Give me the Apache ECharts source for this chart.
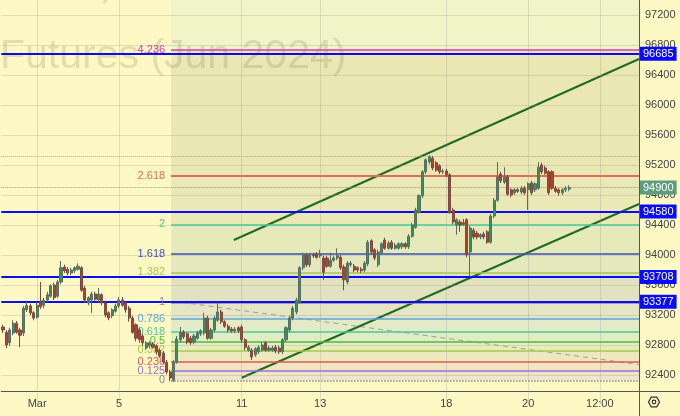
<!DOCTYPE html>
<html><head><meta charset="utf-8">
<script src="https://cdn.jsdelivr.net/npm/echarts@6/dist/echarts.min.js"></script>
<style>html,body{margin:0;padding:0;background:#fdf8c4}#c{width:680px;height:416px}</style>
</head><body><div id="c"></div>
<script>
// candles: [open, close, low, high]
const candles = [
[93040,93000,92960,93070],[92970,92800,92760,93000],[92830,93000,92790,93030],[92960,93090,92930,93130],
[93090,92970,92950,93120],[93000,92930,92770,93030],[92960,93290,92920,93320],[93270,93330,93240,93370],
[93320,93230,93200,93350],[93230,93160,93130,93250],[93170,93330,93150,93370],[93370,93310,93280,93640],
[93330,93400,93290,93430],[93400,93470,93370,93510],[93450,93590,93430,93610],[93600,93430,93400,93630],
[93450,93640,93430,93670],[93640,93830,93610,93920],[93840,93790,93760,93870],[93810,93760,93730,93840],
[93760,93800,93730,93830],[93790,93830,93760,93850],[93810,93850,93790,93890],[93830,93530,93510,93850],
[93560,93400,93360,93590],[93360,93430,93330,93450],[93400,93480,93230,93510],[93480,93410,93390,93510],
[93400,93480,93370,93560],[93470,93360,93330,93490],[93360,93200,93170,93390],[93230,93160,93130,93250],
[93190,93270,93160,93290],[93250,93320,93230,93350],[93320,93400,93290,93440],[93400,93330,93310,93440],
[93360,93270,93230,93390],[93290,93160,93110,93320],[93160,92970,92950,93190],[93070,92890,92850,93090],
[93000,92870,92830,93030],[92920,92830,92790,92950],[92760,92830,92730,92850],[92790,92830,92760,92850],
[92810,92770,92750,92840],[92790,92710,92670,92810],[92730,92650,92630,92760],[92690,92570,92550,92720],
[92570,92440,92410,92600],[92440,92360,92320,92470],[92330,92570,92310,92600],[92570,92880,92550,92920],
[92870,92970,92840,93040],[92970,92910,92880,93000],[92950,92840,92810,92970],[92890,92830,92800,92920],
[92840,92920,92810,92950],[92890,92960,92870,92990],[92950,92990,92920,93010],[92960,93160,92930,93230],
[93160,92890,92870,93190],[92890,93000,92870,93030],[93000,93160,92970,93190],[93130,93240,93110,93370],
[93240,93110,93080,93270],[93110,93050,93030,93130],[93050,93000,92970,93080],[93010,92990,92960,93040],
[92990,93010,92960,93040],[93030,92990,92960,93050],[93040,92870,92830,93070],[92870,92770,92730,92890],
[92730,92770,92710,92800],[92730,92640,92600,92760],[92670,92750,92640,92770],[92710,92770,92680,92800],
[92730,92800,92710,92840],[92830,92730,92710,92850],[92730,92760,92710,92790],[92730,92760,92710,92790],
[92770,92720,92690,92800],[92760,92710,92680,92790],[92710,92870,92680,92890],[92870,93030,92840,93050],
[93000,93160,92970,93190],[93160,93290,93130,93320],[93240,93400,93210,93430],[93370,93830,93350,93850],
[93830,94000,93800,94030],[94000,93870,93840,94030],[93870,94000,93840,94030],[94000,93990,93960,94030],
[94010,93970,93950,94040],[93990,94010,93960,94070],[93960,93770,93670,93990],[93960,93850,93830,93990],
[93850,93930,93830,94030],[93930,93960,93910,93990],[93960,93990,93930,94090],[93970,93830,93800,94000],
[93840,93670,93530,93870],[93640,93890,93610,93920],[93870,93890,93840,93920],[93850,93800,93770,93880],
[93830,93800,93770,93850],[93810,93790,93760,93840],[93800,93890,93770,93920],[93880,94170,93850,94200],
[94190,94040,94010,94210],[94070,93960,93930,94090],[93870,94040,93840,94070],[94030,94150,94000,94170],
[94200,94090,94070,94230],[94090,94160,94070,94190],[94170,94090,94070,94200],[94090,94130,94070,94160],
[94090,94150,94070,94170],[94110,94150,94080,94170],[94150,94110,94080,94170],[94110,94250,94080,94280],
[94250,94400,94230,94430],[94370,94600,94350,94630],[94570,94790,94550,94810],[94790,95110,94760,95130],
[95110,95270,95080,95290],[95240,95310,95210,95330],[95290,95160,95130,95320],[95230,95130,95110,95250],
[95190,95110,95080,95210],[95110,95120,95080,95150],[95120,95070,95040,95150],[95070,94570,94550,95090],
[94600,94440,94410,94630],[94400,94470,94270,94490],[94440,94400,94310,94470],[94430,94410,94390,94480],
[94470,94000,93970,94490],[94040,94360,93710,94390],[94330,94240,94210,94360],[94290,94240,94210,94320],
[94240,94270,94210,94290],[94280,94240,94210,94310],[94310,94170,94150,94330],[94170,94520,94150,94550],
[94520,94730,94490,94760],[94730,95040,94710,95240],[95080,94990,94960,95110],[94970,95050,94950,95170],
[95040,94810,94790,95070],[94870,94800,94770,94890],[94830,94870,94800,94890],[94870,94850,94830,94890],
[94840,94890,94810,94920],[94890,94830,94800,94920],[94870,94950,94600,94970],[94960,94830,94800,94990],
[94870,94950,94840,94970],[94890,95170,94870,95240],[95200,95110,95080,95230],[95160,95090,95070,95190],
[95110,94830,94800,95130],[95110,94890,94870,95130],[94890,94850,94830,94920],[94870,94830,94790,94890],
[94830,94870,94800,94890],[94870,94890,94840,94920],[94880,94900,94850,94930]
];
const categoryCount = 187;
const tickLabels = ['Mar','5','11','13','18','20','12:00'];
const tickIndex = [10,34,70,93,130,154,175];
const priceTicks = [92400,92800,93200,93600,94000,94400,94800,95200,95600,96000,96400,96800,97200];
const fibLow = 92330, fibHigh = 93370;
const fibStart = 49.3;
const fibLevels = [0,0.125,0.236,0.382,0.5,0.618,0.786,1,1.382,1.618,2,2.618,4.236];
const fibLabels = ['0','0.125','0.236','0.382','0.5','0.618','0.786','1','1.382','1.618','2','2.618','4.236'];
const levelLines = [96685,94580,93708,93377];
const lastPrice = 94900;
const dottedLevels = [95320];
const upperChannel = [[67.7,94200],[186.5,96613]];
const lowerChannel = [[70.0,92363],[186.5,94680]];
const dashedLine = [[49.8,93385],[186.5,92540]];

// styles
const fibColors = ['#8a8a8a','#9575cd','#dc5a4e','#a6c84c','#4cbb3a','#48c89a','#5aa8d8','#8a8a8a','#a5c951','#3a4fc0','#49c99a','#d9705c','#d13fb4'];
const zoneColors = ['#f0e4cc','#f2e5c3','#ede9be','#e6ecbe','#e0ecc4','#e3eac8','#e5e4c5','#e2e2c0','#e4e8bc','#e6eabb','#eae8b5','#ebe7b3'];
const topZoneColor = '#eff5c7';
const yMin = 92000, yMax = 97400;

const categories = [];
for (let i = 0; i < categoryCount; i++) {
  const k = tickIndex.indexOf(i);
  categories.push(k >= 0 ? tickLabels[k] : '');
}
const xEnd = categoryCount - 0.5;
const fibPrice = l => fibLow + (fibHigh - fibLow) * l;

const zones = [];
for (let i = 0; i < fibLevels.length - 1; i++) {
  zones.push([{xAxis: fibStart, yAxis: fibPrice(fibLevels[i]), itemStyle: {color: zoneColors[i]}},
              {xAxis: xEnd, yAxis: fibPrice(fibLevels[i + 1])}]);
}
zones.push([{xAxis: fibStart, yAxis: fibPrice(fibLevels[fibLevels.length - 1]), itemStyle: {color: topZoneColor}},
            {xAxis: xEnd, yAxis: yMax}]);

const fibLines = fibLevels.map((l, i) => [
  {coord: [fibStart, fibPrice(l)], lineStyle: {color: fibColors[i], width: i === 11 ? 2 : 1.5, type: i === 0 ? 'dotted' : 'solid'},
   label: {show: true, position: 'start', formatter: fibLabels[i], color: fibColors[i], fontSize: 11, distance: 6, fontFamily: 'Liberation Sans'}},
  {coord: [xEnd, fibPrice(l)]}
]);

const gridLines = priceTicks.map(v => ({yAxis: v})).concat(tickIndex.map(i => ({xAxis: i})));

const boxLabel = (bg) => ({show: true, position: 'end', distance: 1, color: '#fff', backgroundColor: bg,
  padding: [2, 3, 1, 3], fontSize: 11, fontFamily: 'Liberation Sans', formatter: p => String(p.value)});

const chart = echarts.init(document.getElementById('c'), null, {renderer: 'canvas'});
chart.setOption({
  backgroundColor: '#fdf8c4',
  animation: false,
  grid: {left: 0, right: 41, top: 0, bottom: 11},
  xAxis: [
    {type: 'category', data: categories, boundaryGap: true, offset: -14,
     axisLine: {onZero: false, lineStyle: {color: '#555'}}, axisTick: {show: false}, splitLine: {show: false},
     axisLabel: {interval: 0, color: '#444', fontSize: 11, margin: 7, fontFamily: 'Liberation Sans'}},
    {type: 'value', min: -0.5, max: xEnd, show: false, axisLine: {onZero: false}}
  ],
  yAxis: {type: 'value', position: 'right', min: yMin, max: yMax, interval: 400,
    axisLine: {show: true, onZero: false, lineStyle: {color: '#555'}}, axisTick: {show: false}, splitLine: {show: false},
    axisLabel: {color: '#444', fontSize: 11, margin: 6, showMinLabel: false, showMaxLabel: false,
      fontFamily: 'Liberation Sans', formatter: v => String(v)}},
  graphic: [
    {type: 'text', left: 102, top: -36, z: 3, silent: true,
     style: {text: ')', font: '40px "Liberation Sans"', fill: 'rgba(70,70,40,0.15)'}},
    {type: 'text', left: 0, top: 36, z: 3, silent: true,
     style: {text: 'Futures (Jun 2024)', font: '41px "Liberation Sans"', fill: 'rgba(70,70,40,0.15)'}},
    {type: 'line', z: 10, shape: {x1: 639, y1: 391.5, x2: 680, y2: 391.5}, style: {stroke: '#555', lineWidth: 1}},
    {type: 'line', z: 10, shape: {x1: 639.5, y1: 391, x2: 639.5, y2: 416}, style: {stroke: '#555', lineWidth: 1}},
    {type: 'polygon', z: 10, shape: {points: [[648.5,402],[651.25,397.2],[656.75,397.2],[659.5,402],[656.75,406.8],[651.25,406.8]]},
     style: {fill: 'none', stroke: '#333', lineWidth: 1.2}},
    {type: 'circle', z: 10, shape: {cx: 654, cy: 402, r: 1.8}, style: {fill: 'none', stroke: '#333', lineWidth: 1.2}}
  ],
  series: [
    {type: 'line', xAxisIndex: 1, z: 1, data: [[fibStart, fibLow]], symbol: 'none', lineStyle: {opacity: 0}, silent: true,
     markArea: {silent: true, data: zones}},
    {type: 'line', xAxisIndex: 1, z: 2, data: [], silent: true,
     markLine: {silent: true, symbol: 'none', label: {show: false},
       lineStyle: {color: 'rgba(150,150,140,0.28)', type: 'solid', width: 1}, data: gridLines}},
    {type: 'line', xAxisIndex: 1, z: 4, data: [], silent: true,
     markLine: {silent: true, symbol: 'none', data: fibLines}},
    {type: 'line', xAxisIndex: 1, z: 4, data: dashedLine, symbol: 'none', silent: true,
     lineStyle: {color: '#a09f98', width: 1, type: [5, 4]}},
    {type: 'line', xAxisIndex: 1, z: 4, data: upperChannel, symbol: 'none', silent: true,
     lineStyle: {color: '#1e6b22', width: 2}},
    {type: 'line', xAxisIndex: 1, z: 4, data: lowerChannel, symbol: 'none', silent: true,
     lineStyle: {color: '#1e6b22', width: 2}},
    {type: 'candlestick', z: 5, data: candles, barWidth: 2.6,
     itemStyle: {color: '#3e8e5e', color0: '#b8412e', borderColor: '#557060', borderColor0: '#7d4a3f', borderWidth: 1}},
    {type: 'line', xAxisIndex: 1, z: 6, data: [], silent: true,
     markLine: {silent: true, symbol: 'none',
       data: dottedLevels.map(v => ({yAxis: v, lineStyle: {color: '#a8a89a', type: 'dotted', width: 1}, label: {show: false}}))
         .concat([{yAxis: lastPrice, lineStyle: {color: '#7fa58a', type: 'dotted', width: 1}, label: boxLabel('#5b9e7d')}])
         .concat(levelLines.map(v => ({yAxis: v, lineStyle: {color: '#0a0aff', type: 'solid', width: 2}, label: boxLabel('#0a0aff')})))}}
  ]
});
</script></body></html>
